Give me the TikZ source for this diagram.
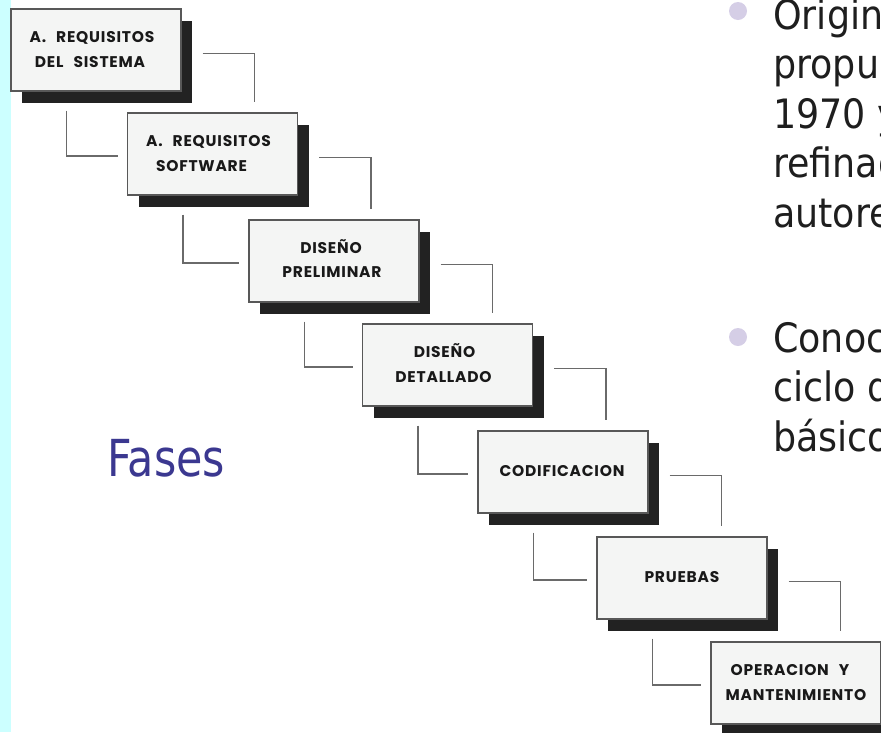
\documentclass[tikz,border=0pt]{standalone}
\usepackage{fontspec}
\usetikzlibrary{calc}

% Fonts: a Tahoma-like sans for the slide text, a geometric bold sans for the phase boxes
\newfontfamily\slidefont{DejaVu Sans}[FakeStretch=0.84]
\newfontfamily\bodyfont{DejaVu Sans}[FakeStretch=0.9]
\newfontfamily\stepfont{Poppins}[LetterSpace=5]
\newcommand\wordgap{\hspace{10pt}}

\definecolor{stripcyan}{HTML}{CCFFFF}
\definecolor{titleblue}{HTML}{3B3890}
\definecolor{bulletlilac}{HTML}{D5CEE6}
\definecolor{boxfill}{HTML}{F4F5F4}
\definecolor{boxline}{HTML}{585858}
\definecolor{shadowgray}{HTML}{222222}
\definecolor{wiregray}{HTML}{6A6A6A}
\definecolor{bodytext}{HTML}{1E1E1E}

\tikzset{
  phase/.style={draw=boxline, line width=1.2pt, fill=boxfill,
    minimum width=170pt, minimum height=82pt, inner sep=0pt},
  shadowbox/.style={fill=shadowgray, draw=none,
    minimum width=170pt, minimum height=82pt, inner sep=0pt},
  steptext/.style={anchor=base, inner sep=0pt, text=black!90,
    font=\stepfont\bfseries\fontsize{15.5}{18}\selectfont},
  wire/.style={draw=wiregray, line width=1.3pt},
  bodyline/.style={anchor=base west, inner sep=0pt, text=bodytext,
    font=\bodyfont\fontsize{40.5}{48}\selectfont},
  dot/.style={circle, fill=bulletlilac, minimum size=18pt, inner sep=0pt},
}

\begin{document}
\begin{tikzpicture}[x=1pt,y=-1pt]
\useasboundingbox (0,0) rectangle (881,732);
\clip (0,0) rectangle (881,732);

% cyan strip on the left margin
\fill[stripcyan] (0,0) rectangle (11,732);

% the seven phase boxes with their drop shadows
\foreach \n/\cx/\cy in {1/96/50, 2/212.5/154, 3/334/261, 4/447.5/365,
                         5/563/472, 6/682/578, 7/796/683}{
  \node[shadowbox] (s\n) at (\cx+11,\cy+12) {};
  \node[phase] (b\n) at (\cx,\cy) {};
}

% box labels
\node[steptext] (t1a) at ($(b1)+(-4,-8)$)  {A.\wordgap REQUISITOS};
\node[steptext] (t1b) at ($(b1)+(-6,17)$)  {DEL\wordgap SISTEMA};
\node[steptext] (t2a) at ($(b2)+(-4,-8)$)  {A.\wordgap REQUISITOS};
\node[steptext] (t2b) at ($(b2)+(-11,17)$) {SOFTWARE};
\node[steptext] (t3a) at ($(b3)+(-3,-8)$)  {DISEÑO};
\node[steptext] (t3b) at ($(b3)+(-2,16)$)  {PRELIMINAR};
\node[steptext] (t4a) at ($(b4)+(-3,-8)$)  {DISEÑO};
\node[steptext] (t4b) at ($(b4)+(-4,17)$)  {DETALLADO};
\node[steptext] (t5a) at ($(b5)+(-1,4)$)   {CODIFICACION};
\node[steptext] (t6a) at ($(b6)+(0,4)$)    {PRUEBAS};
\node[steptext] (t7a) at ($(b7)+(-6,-8)$)  {OPERACION\wordgap Y};
\node[steptext] (t7b) at ($(b7)+(0,17)$)   {MANTENIMIENTO};

% step connectors: one from the right side down towards the next box,
% one from below the box into the left side of the next box
\foreach \a/\b in {1/2, 2/3, 3/4, 4/5, 5/6, 6/7}{
  \draw[wire] ($(b\a.north east)+(21,45)$)
      -| ({$(b\a.north east)+(73,0)$} |- {$(b\b.north)+(0,-10)$});
  \draw[wire] ($(b\a.south west)+(56,19)$)
      |- ($(b\b.west)+(-9,2)$);
}

% title
\node[anchor=base west, inner sep=0pt, text=titleblue,
      font=\slidefont\fontsize{51}{60}\selectfont] (fases) at (107,476) {Fases};

% bulleted text on the right
\node[dot] (dot1) at (738,11) {};
\node[bodyline] (p1) at (773,29)    {Originalmente};
\node[bodyline] (p2) at (773,78.5)  {propuesto por};
\node[bodyline] (p3) at (773,128)   {1970 y};
\node[bodyline] (p4) at (773,177.5) {refinado por};
\node[bodyline] (p5) at (773,227)   {autores};

\node[dot] (dot2) at (738,337) {};
\node[bodyline] (q1) at (773,352)   {Conocido como};
\node[bodyline] (q2) at (773,401.5) {ciclo de vida};
\node[bodyline] (q3) at (773,451)   {básico};
\end{tikzpicture}
\end{document}
